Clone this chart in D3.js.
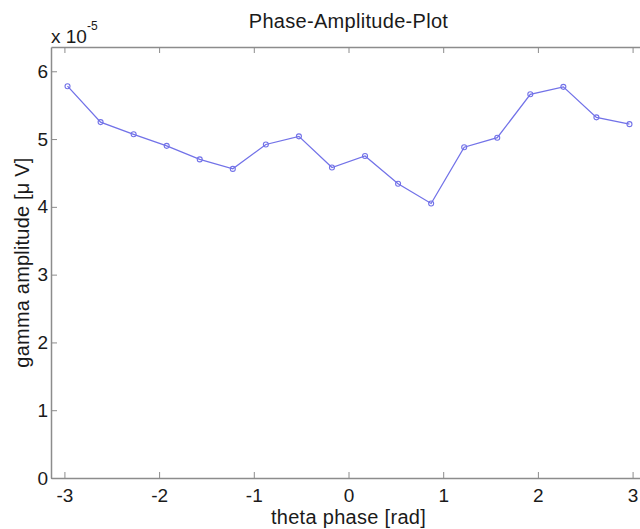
<!DOCTYPE html>
<html>
<head>
<meta charset="utf-8">
<script src="https://cdn.jsdelivr.net/npm/d3@7"></script>
<style>
  html, body { margin: 0; padding: 0; background: #fff; }
  svg { display: block; }
  text { font-family: "Liberation Sans", Arial, Helvetica, sans-serif; fill: #1a1a1a; }
</style>
</head>
<body>
<svg id="chart" width="640" height="529"></svg>
<script>
// Phase bin centres (18 bins over [-pi, pi]) and mean gamma amplitude per bin (x 1e-5 µV)
const nBins = 18;
const phaseBins = d3.range(nBins).map(i => -Math.PI + (i + 0.5) * 2 * Math.PI / nBins);
const amplitude = [5.78, 5.25, 5.07, 4.90, 4.70, 4.56, 4.92, 5.04, 4.58,
                   4.75, 4.34, 4.05, 4.88, 5.02, 5.66, 5.77, 5.32, 5.22];
const xTicks = [-3, -2, -1, 0, 1, 2, 3];
const yTicks = [0, 1, 2, 3, 4, 5, 6];

const svg = d3.select("#chart");
const plot = { left: 51, right: 646, top: 47, bottom: 478 };

const x = d3.scaleLinear().domain([-Math.PI, Math.PI]).range([plot.left, plot.right]);
const y = d3.scaleLinear().domain([0, d3.max(amplitude) * 1.1]).range([plot.bottom, plot.top]);

const axisColor = "#8c8c8c";
const tickLen = 6;
const tickFont = 19;
const fmt = d => String(d); // plain hyphen-minus, as in the original figure

// Axes box (bottom & left with labels, top & right ticks only)
const gx = svg.append("g").attr("transform", `translate(0,${plot.bottom})`)
  .call(d3.axisBottom(x).tickValues(xTicks).tickSizeInner(-tickLen).tickSizeOuter(0).tickPadding(10.5)
    .tickFormat(fmt));
const gxt = svg.append("g").attr("transform", `translate(0,${plot.top})`)
  .call(d3.axisTop(x).tickValues(xTicks).tickSizeInner(-tickLen).tickSizeOuter(0).tickFormat(""));
const gy = svg.append("g").attr("transform", `translate(${plot.left},0)`)
  .call(d3.axisLeft(y).tickValues(yTicks).tickSizeInner(-tickLen).tickSizeOuter(0).tickPadding(3)
    .tickFormat(fmt));
const gyr = svg.append("g").attr("transform", `translate(${plot.right},0)`)
  .call(d3.axisRight(y).tickValues(yTicks).tickSizeInner(-tickLen).tickSizeOuter(0).tickFormat(""));

[gx, gxt, gy, gyr].forEach(g => {
  g.select(".domain").attr("stroke", axisColor).attr("stroke-width", 1.5);
  g.selectAll(".tick line").attr("stroke", axisColor).attr("stroke-width", 1);
  g.selectAll(".tick text").attr("font-size", tickFont).attr("fill", "#1a1a1a")
    .attr("font-family", "'Liberation Sans', Arial, sans-serif");
});

// Data line and circle markers
const lineColor = "#7272e8";
svg.append("path")
  .datum(amplitude)
  .attr("fill", "none")
  .attr("stroke", lineColor)
  .attr("stroke-width", 1.3)
  .attr("d", d3.line().x((d, i) => x(phaseBins[i])).y(d => y(d)));

svg.append("g").selectAll("circle")
  .data(amplitude)
  .join("circle")
  .attr("cx", (d, i) => x(phaseBins[i]))
  .attr("cy", d => y(d))
  .attr("r", 2.5)
  .attr("fill", "none")
  .attr("stroke", lineColor)
  .attr("stroke-width", 1.1);

// Title
svg.append("text")
  .attr("x", (plot.left + plot.right) / 2).attr("y", 28)
  .attr("text-anchor", "middle").attr("font-size", 20).attr("letter-spacing", 0.3)
  .text("Phase-Amplitude-Plot");

// Axis labels
svg.append("text")
  .attr("x", (plot.left + plot.right) / 2).attr("y", 524)
  .attr("text-anchor", "middle").attr("font-size", 20).attr("letter-spacing", 0.3)
  .text("theta phase [rad]");

svg.append("text")
  .attr("transform", `translate(29,${(plot.top + plot.bottom) / 2}) rotate(-90)`)
  .attr("text-anchor", "middle").attr("font-size", 20).attr("letter-spacing", 0.2)
  .text("gamma amplitude [\u03bc V]");

// Exponent multiplier
const expo = svg.append("text").attr("x", plot.left).attr("y", 43).attr("font-size", 19);
expo.append("tspan").text("x 10");
expo.append("tspan").attr("dy", -13).attr("font-size", 12).text("-5");
</script>
</body>
</html>
